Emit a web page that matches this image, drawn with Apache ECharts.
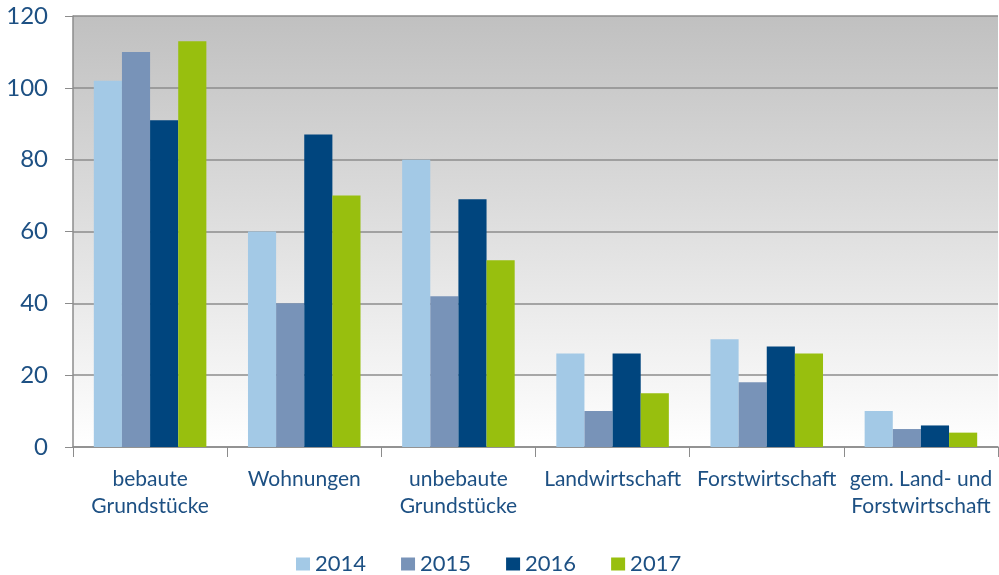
<!DOCTYPE html>
<html>
<head>
<meta charset="utf-8">
<script src="https://cdn.jsdelivr.net/npm/echarts@6/dist/echarts.min.js"></script>
<style>
  html, body { margin: 0; padding: 0; background: #fff; }
  #chart { width: 999px; height: 575px; }
</style>
</head>
<body>
<div id="chart"></div>
<script>
// Kategorien und Werte
var categories = ['bebaute\nGrundstücke', 'Wohnungen', 'unbebaute\nGrundstücke', 'Landwirtschaft', 'Forstwirtschaft', 'gem. Land- und\nForstwirtschaft'];
var years = ['2014', '2015', '2016', '2017'];
var data2014 = [102, 60, 80, 26, 30, 10];
var data2015 = [110, 40, 42, 10, 18, 5];
var data2016 = [91, 87, 69, 26, 28, 6];
var data2017 = [113, 70, 52, 15, 26, 4];
var colors = ['#a3c9e6', '#7893b8', '#00457e', '#98bf0e'];

var textColor = '#1d5083';
var fontName = 'Lato, "Open Sans", sans-serif';

var chart = echarts.init(document.getElementById('chart'));
var seriesData = [data2014, data2015, data2016, data2017];

var option = {
    color: colors,
    animation: false,
    grid: {
        left: 73,
        right: 1,
        top: 16,
        bottom: 128,
        show: true,
        borderWidth: 0,
        backgroundColor: new echarts.graphic.LinearGradient(0, 0, 0, 1, [
            { offset: 0, color: '#c0c0c0' },
            { offset: 1, color: '#ffffff' }
        ])
    },
    legend: {
        data: years,
        top: 548,
        left: 291,
        itemWidth: 14,
        itemHeight: 13,
        itemGap: 35,
        icon: 'rect',
        textStyle: { color: textColor, fontSize: 22, fontFamily: fontName }
    },
    xAxis: {
        type: 'category',
        data: categories,
        axisLine: { lineStyle: { color: '#8c8c8c', width: 1.5 } },
        axisTick: { show: true, length: 10, lineStyle: { color: '#8c8c8c' } },
        axisLabel: {
            color: textColor,
            fontSize: 21,
            fontFamily: fontName,
            margin: 19,
            lineHeight: 27,
            interval: 0
        }
    },
    yAxis: {
        type: 'value',
        min: 0,
        max: 120,
        interval: 20,
        axisLine: { show: true, lineStyle: { color: '#8c8c8c', width: 1.5 } },
        axisTick: { show: true, length: 8, lineStyle: { color: '#8c8c8c' } },
        splitLine: { lineStyle: { color: '#8c8c8c', width: 1.5 } },
        axisLabel: { color: textColor, fontSize: 24, fontFamily: fontName, margin: 25 }
    },
    series: years.map(function (y, i) {
        return {
            name: y,
            type: 'bar',
            data: seriesData[i],
            barGap: '0%',
            barCategoryGap: '27%'
        };
    })
};
chart.setOption(option);
</script>
</body>
</html>
